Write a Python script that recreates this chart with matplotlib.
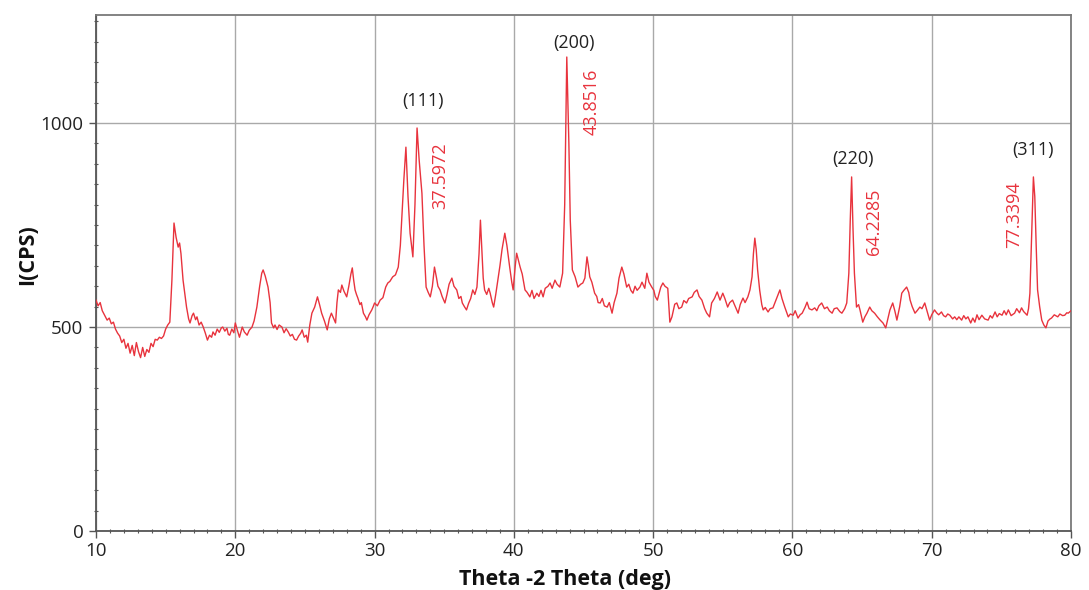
import matplotlib
matplotlib.use("Agg")
import matplotlib.pyplot as plt
from matplotlib.ticker import MultipleLocator

# ---- data (2theta in deg, intensity in CPS) ----
two_theta = [
    10.0, 10.15, 10.3, 10.45, 10.6, 10.8, 10.95, 11.1, 11.25, 11.4, 11.55, 11.7, 11.85, 12.0, 12.15, 12.3,
    12.45, 12.6, 12.75, 12.9, 13.05, 13.2, 13.35, 13.5, 13.65, 13.8, 13.95, 14.1, 14.25, 14.4, 14.55, 14.7,
    14.85, 15.0, 15.15, 15.3, 15.45, 15.6, 15.75, 15.9, 16.0, 16.1, 16.25, 16.4, 16.5, 16.65, 16.75, 16.9,
    17.0, 17.15, 17.25, 17.4, 17.55, 17.7, 17.85, 18.0, 18.15, 18.3, 18.4, 18.55, 18.7, 18.85, 19.0, 19.1,
    19.25, 19.4, 19.5, 19.6, 19.75, 19.9, 20.0, 20.15, 20.3, 20.5, 20.65, 20.85, 21.0, 21.2, 21.35, 21.55,
    21.75, 21.9, 22.0, 22.15, 22.35, 22.5, 22.6, 22.75, 22.85, 23.0, 23.15, 23.35, 23.5, 23.65, 23.8, 23.95,
    24.1, 24.25, 24.4, 24.55, 24.7, 24.8, 24.95, 25.1, 25.2, 25.35, 25.5, 25.7, 25.9, 26.05, 26.2, 26.4,
    26.6, 26.75, 26.9, 27.05, 27.2, 27.3, 27.4, 27.55, 27.65, 27.8, 28.0, 28.15, 28.3, 28.4, 28.5, 28.6,
    28.7, 28.8, 28.95, 29.05, 29.2, 29.35, 29.45, 29.6, 29.8, 29.9, 30.0, 30.2, 30.4, 30.6, 30.8, 30.95,
    31.1, 31.3, 31.5, 31.7, 31.85, 32.0, 32.1, 32.25, 32.4, 32.55, 32.65, 32.75, 32.9, 33.05, 33.2, 33.4,
    33.55, 33.7, 33.85, 34.0, 34.15, 34.3, 34.45, 34.55, 34.7, 34.85, 35.05, 35.2, 35.35, 35.55, 35.7, 35.9,
    36.05, 36.2, 36.3, 36.45, 36.6, 36.75, 36.9, 37.05, 37.2, 37.35, 37.5, 37.6, 37.7, 37.8, 37.9, 38.05,
    38.2, 38.3, 38.45, 38.55, 38.7, 38.85, 39.0, 39.15, 39.35, 39.5, 39.7, 39.85, 39.95, 40.1, 40.2, 40.35,
    40.45, 40.6, 40.8, 40.95, 41.15, 41.3, 41.45, 41.65, 41.8, 41.95, 42.1, 42.25, 42.45, 42.6, 42.75, 42.95,
    43.1, 43.3, 43.5, 43.65, 43.8, 43.95, 44.05, 44.2, 44.4, 44.6, 44.8, 44.95, 45.1, 45.25, 45.35, 45.45,
    45.6, 45.8, 45.95, 46.05, 46.2, 46.35, 46.5, 46.7, 46.85, 47.05, 47.2, 47.4, 47.55, 47.75, 47.9, 48.1,
    48.25, 48.4, 48.55, 48.7, 48.85, 49.05, 49.2, 49.4, 49.55, 49.7, 49.9, 50.05, 50.15, 50.3, 50.45, 50.55,
    50.7, 50.85, 51.05, 51.2, 51.35, 51.55, 51.7, 51.85, 52.05, 52.2, 52.4, 52.55, 52.8, 52.95, 53.15, 53.3,
    53.5, 53.7, 53.85, 54.05, 54.2, 54.4, 54.6, 54.8, 55.0, 55.15, 55.35, 55.5, 55.7, 55.9, 56.1, 56.25,
    56.45, 56.6, 56.8, 56.95, 57.1, 57.2, 57.3, 57.4, 57.5, 57.65, 57.8, 57.9, 58.05, 58.25, 58.4, 58.6,
    58.75, 58.95, 59.1, 59.25, 59.45, 59.6, 59.7, 59.85, 60.05, 60.2, 60.4, 60.55, 60.7, 60.9, 61.05, 61.2,
    61.4, 61.6, 61.75, 61.9, 62.1, 62.3, 62.5, 62.65, 62.85, 63.0, 63.2, 63.4, 63.55, 63.75, 63.9, 64.05,
    64.15, 64.25, 64.35, 64.45, 64.6, 64.75, 64.85, 65.05, 65.2, 65.35, 65.55, 65.7, 65.9, 66.1, 66.3, 66.5,
    66.7, 66.85, 67.0, 67.2, 67.35, 67.5, 67.7, 67.85, 68.0, 68.2, 68.35, 68.45, 68.6, 68.8, 68.95, 69.15,
    69.3, 69.5, 69.7, 69.85, 70.0, 70.2, 70.35, 70.5, 70.7, 70.85, 71.0, 71.15, 71.3, 71.5, 71.65, 71.8,
    71.95, 72.15, 72.3, 72.45, 72.6, 72.8, 72.95, 73.1, 73.25, 73.4, 73.6, 73.8, 74.05, 74.2, 74.35, 74.55,
    74.7, 74.85, 75.05, 75.2, 75.35, 75.5, 75.7, 75.95, 76.1, 76.3, 76.45, 76.6, 76.85, 76.95, 77.05, 77.15,
    77.3, 77.4, 77.5, 77.6, 77.75, 77.9, 78.05, 78.2, 78.35, 78.5, 78.6, 78.8, 79.05, 79.2, 79.4, 79.55,
    79.7, 79.8, 80.0,
]
intensity = [
    566, 552, 560, 540, 530, 517, 522, 508, 512, 495, 485, 478, 462, 470, 448, 460,
    436, 455, 430, 462, 440, 425, 450, 428, 445, 438, 460, 452, 470, 468, 475, 472,
    478, 495, 505, 512, 615, 755, 720, 696, 706, 680, 615, 575, 549, 520, 510, 528,
    534, 518, 525, 505, 512, 500, 485, 468, 480, 475, 488, 480, 495, 487, 498, 500,
    490, 497, 482, 480, 495, 486, 510, 492, 475, 500, 488, 480, 492, 500, 515, 549,
    600, 632, 640, 625, 598, 560, 510, 498, 505, 494, 505, 500, 486, 496, 488, 478,
    482, 470, 468, 478, 485, 493, 475, 480, 463, 505, 534, 549, 574, 555, 534, 515,
    493, 520, 534, 522, 510, 560, 591, 585, 603, 588, 574, 600, 630, 645, 615, 591,
    580, 571, 555, 560, 534, 525, 517, 530, 542, 550, 559, 552, 566, 572, 598, 608,
    612, 623, 628, 647, 700, 794, 860, 941, 820, 730, 700, 672, 800, 988, 910, 828,
    700, 598, 585, 574, 600, 647, 620, 600, 591, 575, 559, 580, 605, 620, 600, 591,
    570, 575, 559, 550, 542, 558, 570, 591, 580, 598, 680, 762, 690, 620, 591, 580,
    595, 583, 560, 549, 580, 615, 650, 690, 730, 700, 647, 610, 591, 650, 681, 660,
    647, 630, 591, 585, 574, 590, 570, 583, 575, 590, 574, 595, 600, 608, 595, 615,
    605, 598, 632, 800, 1162, 950, 762, 640, 623, 598, 605, 608, 620, 672, 650, 623,
    610, 583, 575, 560, 559, 570, 552, 549, 560, 534, 560, 583, 620, 647, 630, 598,
    605, 590, 583, 600, 590, 598, 610, 595, 632, 610, 598, 590, 575, 566, 585, 598,
    608, 600, 595, 512, 525, 556, 559, 545, 549, 565, 559, 570, 574, 585, 591, 575,
    566, 545, 534, 525, 559, 570, 586, 566, 583, 570, 549, 560, 566, 550, 534, 555,
    571, 560, 574, 591, 623, 680, 718, 690, 640, 590, 555, 542, 548, 537, 545, 547,
    560, 578, 591, 570, 549, 535, 525, 532, 529, 540, 522, 530, 534, 548, 561, 545,
    542, 547, 540, 552, 559, 545, 549, 540, 534, 545, 547, 538, 534, 545, 559, 632,
    760, 868, 740, 632, 549, 555, 542, 512, 525, 534, 549, 540, 534, 525, 517, 510,
    498, 520, 542, 559, 540, 517, 550, 583, 590, 598, 585, 566, 550, 534, 540, 549,
    545, 559, 535, 517, 530, 542, 535, 530, 537, 528, 525, 532, 529, 520, 525, 518,
    525, 517, 528, 520, 525, 510, 522, 512, 530, 518, 529, 520, 517, 528, 522, 537,
    525, 533, 529, 540, 530, 542, 528, 534, 545, 535, 547, 538, 529, 545, 583, 700,
    868, 820, 700, 591, 550, 517, 505, 498, 515, 520, 522, 530, 525, 532, 528, 529,
    535, 534, 540,
]

plane_labels = ["(111)", "(200)", "(220)", "(311)"]
plane_x = [33.5, 44.3, 64.35, 77.3]
plane_y = [1054, 1196, 912, 934]
peak_labels = ["37.5972", "43.8516", "64.2285", "77.3394"]
peak_x = [34.7, 45.6, 65.85, 75.9]
peak_y = [872, 1051, 757, 775]

x_ticks = [10, 20, 30, 40, 50, 60, 70, 80]
y_ticks = [0, 500, 1000]

plt.rcParams['font.family'] = ['Open Sans', 'DejaVu Sans']

W, H = 1089, 590
fig = plt.figure(figsize=(W / 100, H / 100), dpi=100)
ax = fig.add_axes([96 / W, 1 - 531 / H, (1071 - 96) / W, (531 - 15) / H])

red = '#e8333d'
ax.plot(two_theta, intensity, color=red, lw=1.0, zorder=3)

ax.set_xlim(10, 80)
ax.set_ylim(0, 1265)
ax.set_xticks(x_ticks)
ax.set_yticks(y_ticks)
ax.xaxis.set_minor_locator(MultipleLocator(1))
ax.yaxis.set_minor_locator(MultipleLocator(50))
ax.grid(True, which='major', color='#a9a9a9', lw=1.0, zorder=0)

for s in ax.spines.values():
    s.set_color('#7a7a7a')
    s.set_linewidth(1.3)
ax.spines['left'].set_color('#555555')
ax.spines['bottom'].set_color('#555555')

ax.tick_params(axis='both', which='major', labelsize=13.5, colors='#555555',
               labelcolor='#222222', length=5, width=1.0, direction='out')
ax.tick_params(axis='x', which='major', pad=3)
ax.tick_params(axis='y', which='major', pad=4)
ax.tick_params(axis='both', which='minor', colors='#555555', length=3, width=0.8,
               direction='inout')

for lab, xv, yv in zip(plane_labels, plane_x, plane_y):
    ax.text(xv, yv, lab, ha='center', va='center', fontsize=13, color='#222222', zorder=4)
for lab, xv, yv in zip(peak_labels, peak_x, peak_y):
    ax.text(xv, yv, lab, ha='center', va='center', rotation=90, fontsize=13,
            color=red, zorder=4)

fig.text(28 / W, 1 - 255 / H, 'I(CPS)', rotation=90, ha='center', va='center',
         fontsize=15.5, fontweight='bold', color='#111111')
fig.text(565 / W, 1 - 580 / H, 'Theta -2 Theta (deg)', ha='center', va='center',
         fontsize=15.5, fontweight='bold', color='#111111')

fig.savefig('out.png', dpi=100)
